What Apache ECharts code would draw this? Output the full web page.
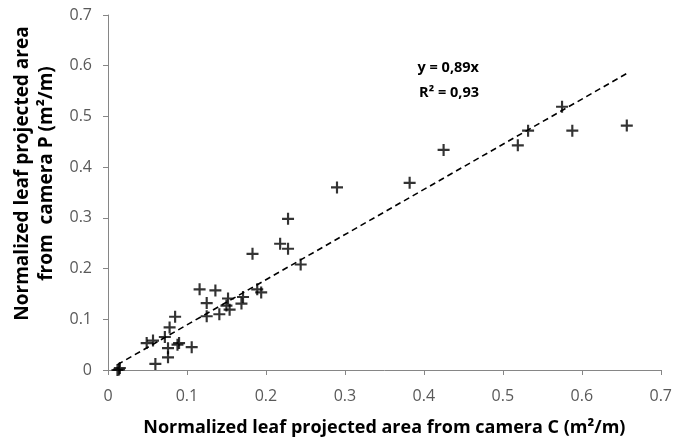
<!DOCTYPE html>
<html>
<head>
<meta charset="utf-8">
<script src="https://cdn.jsdelivr.net/npm/echarts@6/dist/echarts.min.js"></script>
<style>html,body{margin:0;padding:0;background:#fff}#c{width:675px;height:444px}</style>
</head>
<body>
<div id="c"></div>
<script>
const xValues = [0.657,0.588,0.575,0.532,0.519,0.425,0.382,0.290,0.244,0.228,0.228,0.218,0.183,0.194,0.189,0.171,0.169,0.154,0.152,0.150,0.141,0.136,0.125,0.125,0.116,0.106,0.090,0.088,0.085,0.078,0.072,0.076,0.076,0.057,0.049,0.060,0.014,0.012,0.015];
const yValues = [0.482,0.472,0.519,0.472,0.443,0.434,0.369,0.360,0.208,0.298,0.239,0.249,0.229,0.153,0.159,0.144,0.131,0.119,0.141,0.127,0.110,0.157,0.132,0.106,0.159,0.045,0.053,0.050,0.105,0.084,0.065,0.043,0.025,0.058,0.053,0.012,0.001,0.000,0.004];
const slope = 0.89;
const equationText = 'y = 0,89x';
const r2Text = 'R² = 0,93';
const xTitle = 'Normalized leaf projected area from camera C (m²/m)';
const yTitle = 'Normalized leaf projected area\nfrom  camera P (m²/m)';

const points = xValues.map((x, i) => [x, yValues[i]]);
const xMin = Math.min(...xValues), xMax = Math.max(...xValues);
const trend = [[xMin, slope * xMin], [xMax, slope * xMax]];

const FONT = 'Open Sans';
const chart = echarts.init(document.getElementById('c'), null, {renderer: 'canvas'});
const axisCommon = {
  min: 0, max: 0.7, interval: 0.1,
  axisLine: {show: true, onZero: false, lineStyle: {color: '#868686', width: 1}},
  axisTick: {show: true, inside: false, length: 5, lineStyle: {color: '#868686'}},
  splitLine: {show: false},
};
chart.setOption({
  animation: false,
  grid: {left: 108, right: 8, top: 15, bottom: 71, containLabel: false},
  xAxis: Object.assign({}, axisCommon, {
    type: 'value',
    name: xTitle, nameLocation: 'middle', nameGap: 47,
    nameTextStyle: {fontFamily: FONT, fontWeight: 'bold', fontSize: 18, color: '#000', lineHeight: 22},
    axisLabel: {fontFamily: FONT, fontSize: 16, color: '#595959', margin: 18,
      formatter: v => (Math.round(v * 10) / 10).toString()}
  }),
  yAxis: Object.assign({}, axisCommon, {
    type: 'value',
    name: yTitle, nameLocation: 'middle', nameGap: 49, nameRotate: 90,
    nameTextStyle: {fontFamily: FONT, fontWeight: 'bold', fontSize: 19, color: '#000', lineHeight: 24, padding: [0, 0, 0, 38]},
    axisLabel: {fontFamily: FONT, fontSize: 16, color: '#595959', margin: 16,
      formatter: v => (Math.round(v * 10) / 10).toString()}
  }),
  series: [
    {
      type: 'line', data: trend, showSymbol: false, symbol: 'none',
      lineStyle: {color: '#000', width: 1.6, type: [6, 4]}, silent: true, z: 1
    },
    {
      type: 'scatter', data: points,
      symbol: 'path://M4.1,0h1.8v4.1h4.1v1.8h-4.1v4.1h-1.8v-4.1h-4.1v-1.8h4.1z',
      symbolSize: 12, itemStyle: {color: '#000'}, z: 2
    }
  ],
  graphic: [
    {type: 'text', right: 196, top: 60, style: {text: equationText, font: 'bold 14.5px "Open Sans"', fill: '#000', textAlign: 'right'}},
    {type: 'text', right: 196, top: 85, style: {text: r2Text, font: 'bold 14.5px "Open Sans"', fill: '#000', textAlign: 'right'}}
  ]
});
</script>
</body>
</html>
